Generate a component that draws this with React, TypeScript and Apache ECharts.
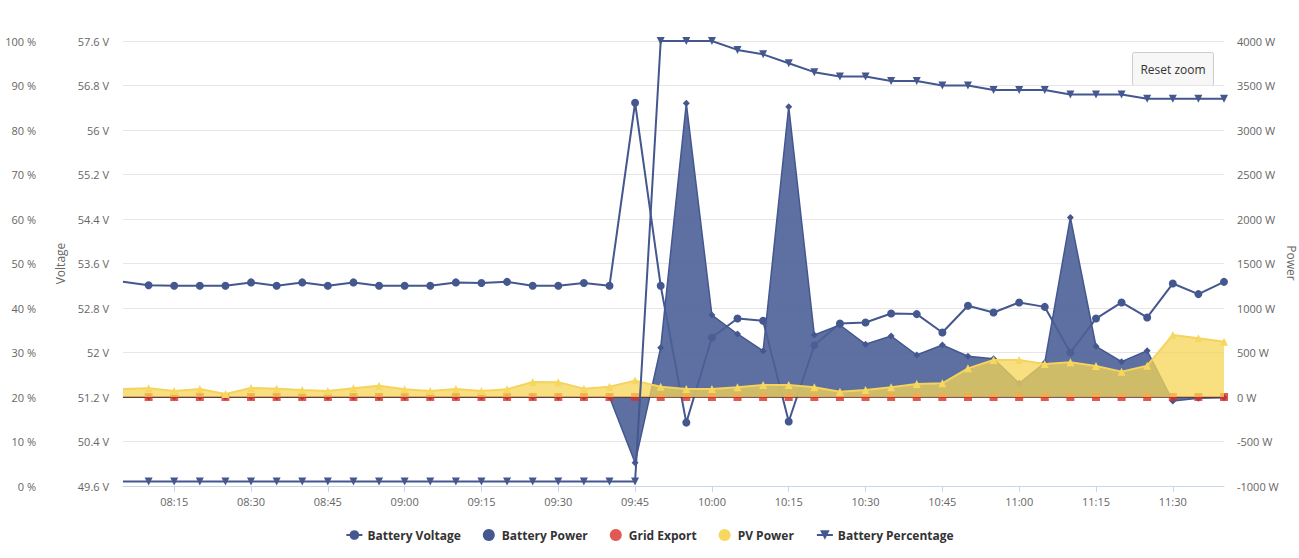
import React, { useEffect, useRef } from "react";
import * as echarts from "echarts";

const categories = [
  "08:05", "08:10", "08:15", "08:20", "08:25", "08:30", "08:35", "08:40", "08:45", "08:50",
  "08:55", "09:00", "09:05", "09:10", "09:15", "09:20", "09:25", "09:30", "09:35", "09:40",
  "09:45", "09:50", "09:55", "10:00", "10:05", "10:10", "10:15", "10:20", "10:25", "10:30",
  "10:35", "10:40", "10:45", "10:50", "10:55", "11:00", "11:05", "11:10", "11:15", "11:20",
  "11:25", "11:30", "11:35", "11:40",
];

const batteryVoltage = [
  53.27, 53.21, 53.2, 53.2, 53.2, 53.26, 53.2, 53.26, 53.2, 53.26,
  53.2, 53.2, 53.2, 53.26, 53.25, 53.27, 53.2, 53.2, 53.25, 53.2,
  56.49, 53.2, 50.74, 52.27, 52.61, 52.57, 50.76, 52.13, 52.52, 52.54,
  52.7, 52.69, 52.36, 52.84, 52.72, 52.9, 52.82, 52.0, 52.61, 52.9,
  52.63, 53.24, 53.05, 53.27,
];

const batteryPower = [
  0, 0, 0, 0, 0, 0, 0, 0, 0, 0,
  0, 0, 0, 0, 0, 0, 0, 0, 0, 0,
  -738, 554, 3300, 921, 708, 517, 3262, 697, 809, 592,
  685, 472, 584, 458, 430, 154, 385, 2017, 570, 397,
  520, -45, -15, -8,
];

const gridExport = [
  0, 0, 0, 0, 0, 0, 0, 0, 0, 0,
  0, 0, 0, 0, 0, 0, 0, 0, 0, 0,
  0, 0, 0, 0, 0, 0, 0, 0, 0, 0,
  0, 0, 0, 0, 0, 0, 0, 0, 0, 0,
  0, 0, 0, 0,
];

const pvPower = [
  90, 97, 67, 90, 34, 101, 94, 79, 67, 97,
  127, 86, 67, 90, 67, 86, 169, 165, 94, 116,
  184, 116, 90, 90, 109, 135, 135, 109, 60, 79,
  109, 146, 154, 322, 416, 416, 371, 390, 348, 285,
  352, 697, 659, 622,
];

const batteryPercentage = [
  1, 1, 1, 1, 1, 1, 1, 1, 1, 1,
  1, 1, 1, 1, 1, 1, 1, 1, 1, 1,
  1, 100, 100, 100, 98, 97, 95, 93, 92, 92,
  91, 91, 90, 90, 89, 89, 89, 88, 88, 88,
  87, 87, 87, 87,
];

const FONT = "'Open Sans', 'Noto Sans', sans-serif";
const BLUE = "#44578e";
const RED = "#d9302a";
const YELLOW = "#f6d860";

const hideFirst = (arr: number[]) =>
  arr.map((v, i) => (i === 0 ? { value: v, symbol: "none" } : v));

const tickAt = (index: number) => index % 3 === 2;

export default function App() {
  const ref = useRef<HTMLDivElement>(null);

  useEffect(() => {
    if (!ref.current) return;
    const chart = echarts.init(ref.current, null, { renderer: "svg" });
    const axisLabel = { color: "#666666", fontSize: 11, fontFamily: FONT };
    chart.setOption({
      animation: false,
      backgroundColor: "#ffffff",
      textStyle: { fontFamily: FONT },
      grid: { left: 123, right: 75, top: 41, bottom: 72, outerBoundsMode: "none", containLabel: false },
      legend: {
        top: 524,
        left: "center",
        itemWidth: 16,
        itemHeight: 12,
        itemGap: 22,
        textStyle: { fontWeight: "bold", fontSize: 12, color: "#333333", fontFamily: FONT },
        data: [
          { name: "Battery Voltage" },
          { name: "Battery Power", icon: "circle" },
          { name: "Grid Export", icon: "circle" },
          { name: "PV Power", icon: "circle" },
          { name: "Battery Percentage" },
        ],
      },
      xAxis: {
        type: "category",
        data: categories,
        boundaryGap: false,
        axisLine: { lineStyle: { color: "#ccd6eb", width: 1 } },
        axisTick: { show: true, interval: tickAt, length: 6, lineStyle: { color: "#ccd6eb" } },
        axisLabel: { ...axisLabel, interval: tickAt, margin: 10 },
        splitLine: { show: false },
      },
      yAxis: [
        {
          type: "value",
          position: "left",
          min: 49.6,
          max: 57.6,
          interval: 0.8,
          name: "Voltage",
          nameLocation: "middle",
          nameGap: 56,
          nameTextStyle: { color: "#666666", fontSize: 12, fontFamily: FONT },
          axisLine: { show: false },
          axisTick: { show: false },
          axisLabel: {
            ...axisLabel,
            margin: 14,
            formatter: (v: number) => `${parseFloat(v.toFixed(1))} V`,
          },
          splitLine: { show: true, lineStyle: { color: "#e6e6e6", width: 1 } },
        },
        {
          type: "value",
          position: "left",
          min: 0,
          max: 100,
          interval: 10,
          axisLine: { show: false },
          axisTick: { show: false },
          axisLabel: { ...axisLabel, margin: 87, formatter: (v: number) => `${v} %` },
          splitLine: { show: false },
        },
        {
          type: "value",
          position: "right",
          min: -1000,
          max: 4000,
          interval: 500,
          axisLine: { show: false },
          axisTick: { show: false },
          axisLabel: { ...axisLabel, margin: 13, formatter: (v: number) => `${v} W` },
          splitLine: { show: false },
        },
      ],
      series: [
        {
          name: "Battery Voltage",
          type: "line",
          yAxisIndex: 0,
          data: hideFirst(batteryVoltage),
          symbol: "circle",
          symbolSize: 8,
          itemStyle: { color: BLUE },
          lineStyle: { color: BLUE, width: 2 },
          z: 2,
        },
        {
          name: "Battery Power",
          type: "line",
          yAxisIndex: 2,
          data: hideFirst(batteryPower),
          symbol: "diamond",
          symbolSize: 7,
          itemStyle: { color: BLUE },
          lineStyle: { color: BLUE, width: 1.5 },
          areaStyle: { color: "#4d6198", opacity: 0.9 },
          z: 3,
        },
        {
          name: "Grid Export",
          type: "line",
          yAxisIndex: 2,
          data: hideFirst(gridExport),
          symbol: "rect",
          symbolSize: 8,
          itemStyle: { color: RED, opacity: 0.8 },
          lineStyle: { color: "#6a2630", width: 1.5 },
          z: 4,
        },
        {
          name: "PV Power",
          type: "line",
          yAxisIndex: 2,
          data: hideFirst(pvPower),
          symbol: "triangle",
          symbolSize: 8,
          itemStyle: { color: YELLOW },
          lineStyle: { color: "#f4d35e", width: 2 },
          areaStyle: { color: "#f5d556", opacity: 0.75 },
          z: 5,
        },
        {
          name: "Battery Percentage",
          type: "line",
          yAxisIndex: 1,
          data: hideFirst(batteryPercentage),
          symbol: "triangle",
          symbolRotate: 180,
          symbolSize: 8,
          itemStyle: { color: BLUE },
          lineStyle: { color: BLUE, width: 2 },
          z: 6,
        },
      ],
      graphic: [
        {
          type: "text",
          x: 1291,
          y: 263,
          rotation: -Math.PI / 2,
          style: {
            text: "Power",
            fill: "#666666",
            font: `12px ${FONT}`,
            align: "center",
            verticalAlign: "middle",
          },
        },
        {
          type: "group",
          left: 1132,
          top: 52,
          children: [
            {
              type: "rect",
              shape: { x: 0, y: 0, width: 81, height: 33, r: 2 },
              style: { fill: "#f7f7f7", stroke: "#cccccc", lineWidth: 1 },
            },
            {
              type: "text",
              x: 40.5,
              y: 16.5,
              style: {
                text: "Reset zoom",
                fill: "#333333",
                font: `12px ${FONT}`,
                align: "center",
                verticalAlign: "middle",
              },
            },
          ],
        },
      ],
    });
    return () => chart.dispose();
  }, []);

  return (
    <div
      ref={ref}
      style={{ position: "fixed", left: 0, top: 0, width: 1299, height: 558, background: "#fff" }}
    />
  );
}
